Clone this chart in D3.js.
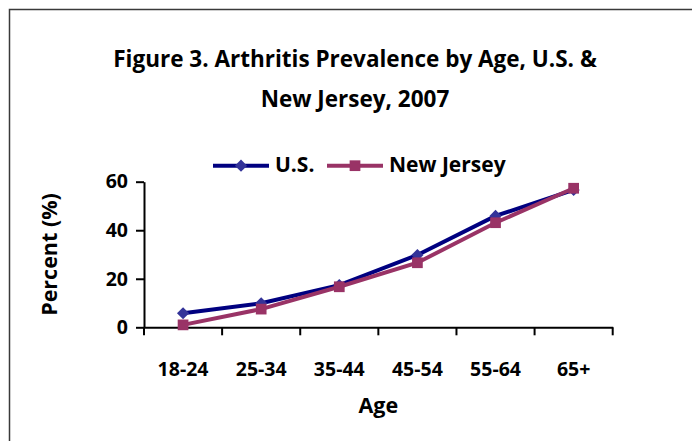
<!DOCTYPE html>
<html>
<head>
<meta charset="utf-8">
<script src="https://cdn.jsdelivr.net/npm/d3@7"></script>
<style>
  body { margin: 0; background: #fff; }
  svg { display: block; font-family: 'Open Sans', Lato, sans-serif; font-weight: bold; }
</style>
</head>
<body>
<svg width="692" height="441"></svg>
<script>
const ages = ['18-24', '25-34', '35-44', '45-54', '55-64', '65+']
const usValues = [5.8, 9.9, 17.4, 29.8, 45.9, 56.6]
const njValues = [1.0, 7.5, 16.7, 26.6, 43.1, 57.3]
const yTicks = [0, 20, 40, 60]

const series = [
  { name: 'U.S.', values: usValues, line: '#000080', marker: '#333399', shape: 'diamond' },
  { name: 'New Jersey', values: njValues, line: '#993366', marker: '#993366', shape: 'square' }
]

const width = 692
const height = 441
const margin = { top: 181.7, right: 79.3, bottom: 113.7, left: 144 }

const svg = d3.select('svg')

// frame around the chart area (runs off the right / bottom edge like the source)
svg.append('rect')
  .attr('x', 9.5).attr('y', 9.5)
  .attr('width', width + 20).attr('height', height + 20)
  .attr('fill', 'none')
  .attr('stroke', '#3a3a3a')
  .attr('stroke-width', 1.5)

const xScale = d3.scaleBand()
  .domain(ages)
  .range([margin.left, width - margin.right])

const yScale = d3.scaleLinear()
  .domain([0, 60])
  .range([height - margin.bottom, margin.top])

// title
svg.append('g')
  .attr('font-size', 22.5)
  .attr('text-anchor', 'middle')
  .selectAll('text')
  .data(['Figure 3. Arthritis Prevalence by Age, U.S. &', 'New Jersey, 2007'])
  .join('text')
  .attr('x', 355)
  .attr('y', (d, i) => 67 + i * 40)
  .text(d => d)

// axes
const xAxis = g => g
  .attr('transform', `translate(0,${yScale(0)})`)
  .call(d3.axisBottom(xScale).tickSize(0).tickSizeOuter(0).tickPadding(35))
  .attr('font-family', null)
  .attr('font-size', 19.5)
  .call(g => g.select('.domain').attr('stroke', '#000').attr('stroke-width', 2))
  .call(g => g.selectAll('.tick text').attr('fill', '#000'))
  .call(g => g.selectAll('.edge')
    .data(ages.map(d => xScale(d)).concat([xScale.range()[1]]))
    .join('line')
    .attr('class', 'edge')
    .attr('x1', d => d).attr('x2', d => d)
    .attr('y1', 0).attr('y2', 8)
    .attr('stroke', '#000').attr('stroke-width', 2))

const yAxis = g => g
  .attr('transform', `translate(${margin.left},0)`)
  .call(d3.axisLeft(yScale).tickValues(yTicks).tickSize(8).tickPadding(8).tickSizeOuter(0))
  .attr('font-family', null)
  .attr('font-size', 19.5)
  .call(g => g.select('.domain').attr('stroke', '#000').attr('stroke-width', 2))
  .call(g => g.selectAll('.tick line').attr('stroke', '#000').attr('stroke-width', 2))
  .call(g => g.selectAll('.tick text').attr('fill', '#000'))

svg.append('g').call(xAxis)
svg.append('g').call(yAxis)

// axis titles
svg.append('text')
  .attr('x', (xScale.range()[0] + xScale.range()[1]) / 2)
  .attr('y', 412.7)
  .attr('text-anchor', 'middle')
  .attr('font-size', 21.5)
  .text('Age')

svg.append('text')
  .attr('transform', `translate(57,${yScale(30)}) rotate(-90)`)
  .attr('text-anchor', 'middle')
  .attr('font-size', 21.5)
  .text('Percent (%)')

// series
const line = d3.line()
  .x((d, i) => xScale(ages[i]) + xScale.bandwidth() / 2)
  .y(d => yScale(d))

const marker = s => s.shape === 'diamond'
  ? d3.symbol(d3.symbolSquare, 74)()
  : d3.symbol(d3.symbolSquare, 115)()

const rot = s => s.shape === 'diamond' ? ' rotate(45)' : ''

series.forEach(s => {
  svg.append('path')
    .datum(s.values)
    .attr('fill', 'none')
    .attr('stroke', s.line)
    .attr('stroke-width', 4)
    .attr('d', line)

  svg.append('g')
    .selectAll('path')
    .data(s.values)
    .join('path')
    .attr('d', marker(s))
    .attr('fill', s.marker)
    .attr('transform', (d, i) => `translate(${xScale(ages[i]) + xScale.bandwidth() / 2},${yScale(d)})${rot(s)}`)
})

// legend
const legendPos = [{ x: 213, textX: 275 }, { x: 327, textX: 389 }]
const legend = svg.append('g')
  .selectAll('g')
  .data(series)
  .join('g')
  .attr('transform', 'translate(0,165.7)')

legend.append('line')
  .attr('x1', (d, i) => legendPos[i].x)
  .attr('x2', (d, i) => legendPos[i].x + 56)
  .attr('stroke', d => d.line)
  .attr('stroke-width', 4)

legend.append('path')
  .attr('d', d => marker(d))
  .attr('fill', d => d.marker)
  .attr('transform', (d, i) => `translate(${legendPos[i].x + 28},0)${rot(d)}`)

legend.append('text')
  .attr('x', (d, i) => legendPos[i].textX)
  .attr('y', 6.5)
  .attr('font-size', 21)
  .text(d => d.name)
</script>
</body>
</html>
